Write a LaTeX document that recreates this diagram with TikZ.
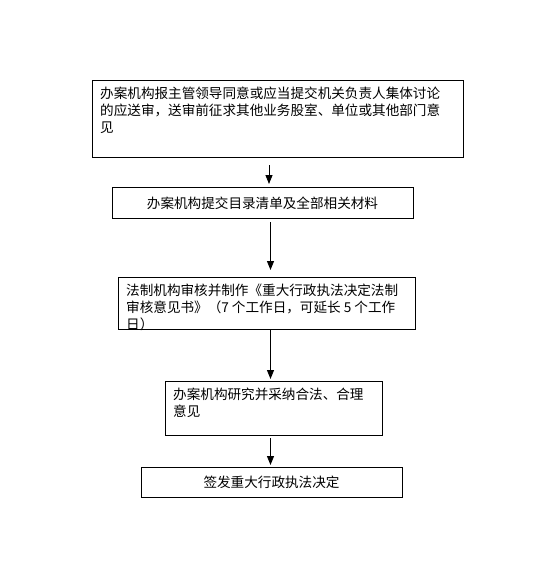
\documentclass[tikz,border=0pt]{standalone}
\usepackage{fontspec}
\newfontfamily\cjk{Noto Sans CJK SC}
\usetikzlibrary{arrows.meta}
\tikzset{
  box/.style={draw, line width=0.9pt, anchor=north west, inner sep=0pt, outer sep=0pt},
  txt/.style={anchor=north west, inner sep=0pt, align=left, font=\cjk\fontsize{13.6pt}{17pt}\selectfont},
  ctxt/.style={anchor=center, inner sep=0pt, font=\cjk\fontsize{13.6pt}{17pt}\selectfont},
  arr/.style={line width=0.8pt, -{Triangle[width=7pt,length=9pt]}}
}
\begin{document}
\begin{tikzpicture}[x=1pt,y=-1pt]
\useasboundingbox (0,0) rectangle (554,574);
% boxes
\node[box, minimum width=371pt, minimum height=77pt] (b1) at (92,80) {};
\node[box, minimum width=301pt, minimum height=31pt] (b2) at (112,187) {};
\node[box, minimum width=297pt, minimum height=52pt] (b3) at (118,277) {};
\node[box, minimum width=217pt, minimum height=54pt] (b4) at (165,381) {};
\node[box, minimum width=261pt, minimum height=30pt] (b5) at (141,467) {};
% texts
\node[txt] (t1) at (100,87) {办案机构报主管领导同意或应当提交机关负责人集体讨论\\的应送审，送审前征求其他业务股室、单位或其他部门意\\见};
\node[ctxt] (t2) at (262.5,203) {办案机构提交目录清单及全部相关材料};
\node[txt] (t3) at (126,284) {法制机构审核并制作《重大行政执法决定法制\\审核意见书》（7 个工作日，可延长 5 个工作\\日）};
\node[txt] (t4) at (173,388) {办案机构研究并采纳合法、合理\\意见};
\node[ctxt] (t5) at (271.5,482) {签发重大行政执法决定};
% arrow axis
\coordinate (ax1) at (269,0);
\coordinate (ax2) at (270.5,0);
\draw[arr, shorten <=8pt, shorten >=3pt] (b1.south -| ax1) -- (b2.north -| ax1);
\draw[arr, shorten <=4pt, shorten >=7pt] (b2.south -| ax2) -- (b3.north -| ax2);
\draw[arr, shorten <=0pt, shorten >=2pt] (b3.south -| ax2) -- (b4.north -| ax2);
\draw[arr, shorten <=3pt, shorten >=2pt] (b4.south -| ax2) -- (b5.north -| ax2);
\end{tikzpicture}
\end{document}
